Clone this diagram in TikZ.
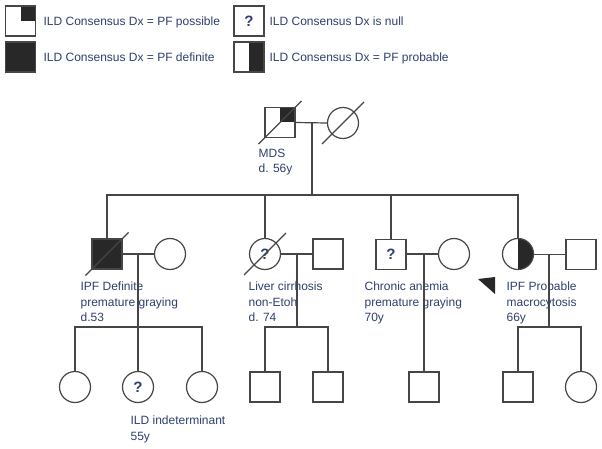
\documentclass[tikz,border=0pt]{standalone}
\usepackage{fontspec}
\setmainfont{Liberation Sans}
\usetikzlibrary{calc}
\definecolor{lc}{RGB}{70,70,70}
\definecolor{fc}{RGB}{40,40,40}
\definecolor{tc}{RGB}{45,65,110}
\begin{document}
\begin{tikzpicture}[x=1pt,y=-1pt,
  line width=1.2pt,
  sq/.style={draw=lc, rectangle, minimum size=30pt, inner sep=0pt, line width=1.2pt},
  ci/.style={draw=lc, circle, minimum size=31pt, inner sep=0pt, line width=1.2pt},
  qfill/.style={path picture={\fill[fc] (path picture bounding box.north) rectangle (path picture bounding box.east);}},
  hfill/.style={path picture={\fill[fc] (path picture bounding box.north) rectangle (path picture bounding box.south east);}},
  ffill/.style={fill=fc},
  qm/.style={font=\bfseries\fontsize{15}{15}\selectfont, text=tc},
  lbl/.style={font=\fontsize{12}{15.5}\selectfont, text=tc, align=left, anchor=base west, inner sep=0pt},
  mlbl/.style={font=\fontsize{12}{15.5}\selectfont, text=tc, align=left, anchor=north west, inner sep=0pt},
  con/.style={draw=lc, line width=1.2pt},
  slash/.style={draw=lc, line width=1.1pt}
]
\useasboundingbox[fill=white] (0,0) rectangle (602,449);

% Legend
\node[sq, qfill] (L1) at (20.5,21) {};
\node[sq, ffill] (L2) at (20.5,57) {};
\node[sq, qm] (L3) at (249,21) {?};
\node[sq, hfill] (L4) at (249,57) {};
\node[lbl] (T1) at (43,26) {ILD Consensus Dx = PF possible};
\node[lbl] (T2) at (43,62) {ILD Consensus Dx = PF definite};
\node[lbl] (T3) at (269,26) {ILD Consensus Dx is null};
\node[lbl] (T4) at (269,62) {ILD Consensus Dx = PF probable};

% Generation I
\node[sq, qfill] (I1) at (280,122.5) {};
\node[ci] (I2) at (343,123) {};
\draw[slash] ($(I1.south west)+(-6,6)$) -- ($(I1.north east)+(6,-6)$);
\draw[slash] ($(I2.center)+(-21,21)$) -- ($(I2.center)+(21,-21)$);
\coordinate (m0) at (312,123);
\coordinate (s0) at (312,195);
\draw[con] (I1.east) -- (I2.west);
\draw[con] (m0) -- (s0);
\node[mlbl] (tI1) at (258,148.5) {MDS\\d. 56y};

% Generation II
\node[sq, ffill] (A1) at (107,254) {};
\node[ci] (A2) at (170,254) {};
\node[ci, qm] (B1) at (265,254) {?};
\node[sq] (B2) at (328,254) {};
\node[sq, qm] (C1) at (391,254.5) {?};
\node[ci] (C2) at (454,254) {};
\node[ci, hfill] (D1) at (518,254) {};
\node[sq] (D2) at (581,254.5) {};

\draw[slash] ($(A1.south west)+(-6,6)$) -- ($(A1.north east)+(6,-6)$);
\draw[slash] ($(B1.center)+(-21,21)$) -- ($(B1.center)+(21,-21)$);

\draw[con] (A1.north) |- (s0);
\draw[con] (B1.north) |- (s0);
\draw[con] (C1.north) |- (s0);
\draw[con] (D1.north) |- (s0);

\draw[con] (A1.east) -- (A2.west);
\draw[con] (B1.east) -- (B2.west);
\draw[con] (C1.east |- C2.west) -- (C2.west);
\draw[con] (D1.east |- D2.west) -- (D2.west);

% proband arrowhead
\fill[fc] (478,279) -- (495,277) -- (495,294) -- cycle;

\node[mlbl] (tA) at (80,281.5) {IPF Definite\\premature graying\\d.53};
\node[mlbl] (tB) at (248,281.5) {Liver cirrhosis\\non-Etoh\\d. 74};
\node[mlbl] (tC) at (364,281.5) {Chronic anemia\\premature graying\\70y};
\node[mlbl] (tD) at (506,281.5) {IPF Probable\\macrocytosis\\66y};

% Generation III
\node[ci] (a1) at (75,387) {};
\node[ci, qm] (a2) at (138,387) {?};
\node[ci] (a3) at (202,387) {};
\node[sq] (b1) at (265,387) {};
\node[sq] (b2) at (328,387) {};
\node[sq] (c1) at (424,387) {};
\node[sq] (d1) at (518,387) {};
\node[ci] (d2) at (581,387) {};

\coordinate (mA) at (138,254);
\coordinate (sA) at (138,327);
\coordinate (mB) at (297,254);
\coordinate (sB) at (297,327);
\coordinate (mC) at (424,254);
\coordinate (mD) at (549,254);
\coordinate (sD) at (549,327);

\draw[con] (mA) -- (sA);
\draw[con] (a1.north) |- (sA);
\draw[con] (a3.north) |- (sA);
\draw[con] (a2.north) -- (sA);

\draw[con] (mB) -- (sB);
\draw[con] (b1.north) |- (sB);
\draw[con] (b2.north) |- (sB);

\draw[con] (mC) -- (c1.north);

\draw[con] (mD) -- (sD);
\draw[con] (d1.north) |- (sD);
\draw[con] (d2.north) |- (sD);

\node[mlbl] (ta2) at (130,415.5) {ILD indeterminant\\55y};
\end{tikzpicture}
\end{document}
